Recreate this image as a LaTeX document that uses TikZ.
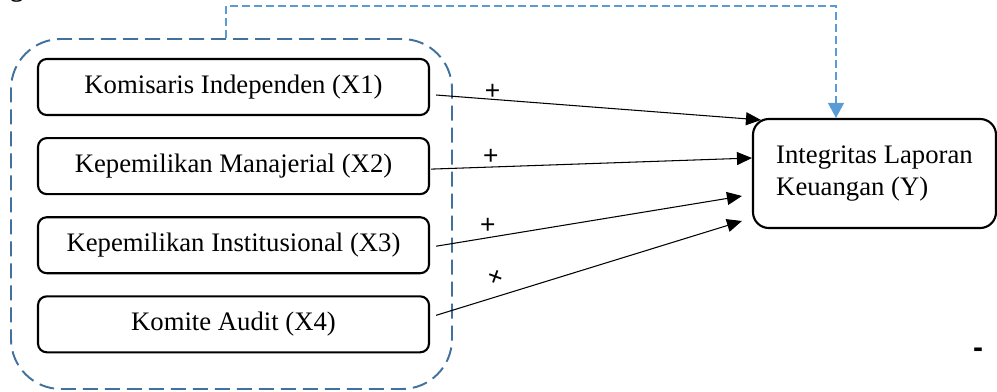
\documentclass[tikz,border=0pt]{standalone}
\usepackage{fontspec}
\setmainfont{Liberation Serif}
\newfontfamily\plusfont{Liberation Sans}
\usetikzlibrary{arrows.meta,positioning}
\definecolor{grupblue}{HTML}{41719C}
\definecolor{umpanblue}{HTML}{5B9BD5}
\tikzset{
  basic/.style  = {draw, line width=1.2pt, font=\fontsize{15.2}{18.7}\selectfont},
  faktor/.style = {basic, rounded corners=5pt, align=center,
                   minimum width=7.82cm, minimum height=1.12cm},
  hasil/.style  = {basic, rounded corners=9pt, align=left,
                   minimum width=4.86cm, minimum height=2.18cm},
  grup/.style   = {draw=grupblue, line width=1.1pt, rounded corners=1cm,
                   dash pattern=on 0.3cm off 0.14cm},
  umpan/.style  = {draw=umpanblue, line width=0.7pt,
                   dash pattern=on 0.16cm off 0.08cm,
                   -{Triangle[length=0.3cm,width=0.32cm,fill=umpanblue]}},
  panah/.style  = {draw, line width=0.6pt,
                   -{Triangle[length=0.3cm,width=0.26cm]}},
  plus/.style   = {font=\plusfont\fontsize{15}{15}\selectfont, inner sep=0pt}
}

\begin{document}
\begin{tikzpicture}
  \useasboundingbox (0,0) rectangle (19.94,-7.82);

  % cropped caption letter at the top edge
  \node[anchor=base, font=\bfseries\fontsize{15}{18}\selectfont] (kap) at (0.34,0.07) {g};

  % independent variables, stacked
  \node[faktor] (k1) at (4.67,-1.74) {Komisaris Independen (X1)};
  \node[faktor, below=0.42cm of k1] (k2) {Kepemilikan Manajerial (X2)};
  \node[faktor, below=0.42cm of k2] (k3) {Kepemilikan Institusional (X3)};
  \node[faktor, below=0.42cm of k3] (k4) {Komite Audit (X4)};

  % dashed group round them
  \node[grup, minimum width=8.82cm, minimum height=7cm] (grp) at (4.63,-4.28) {};

  % dependent variable
  \node[hasil] (y) at (17.49,-3.47) {Integritas Laporan\\Keuangan (Y)};

  % simultaneous effect of the group
  \coordinate (atas) at (16.72,-0.12);
  \draw[umpan] ([xshift=-0.11cm]grp.north) |- (atas) -- (atas |- y.north);

  % partial effects
  \draw[panah] ([shift={(0.12,-0.16)}]k1.east)
    -- node[plus, pos=0.174, yshift=0.15cm] (p1) {+} ([shift={(0.18,-0.04)}]y.north west);
  \draw[panah] ([shift={(0.02,-0.06)}]k2.east)
    -- node[plus, pos=0.186, yshift=0.2cm] (p2) {+} ([yshift=0.31cm]y.west);
  \draw[panah] ([shift={(0.12,-0.02)}]k3.east)
    -- node[plus, pos=0.169, yshift=0.24cm] (p3) {+} ([shift={(-0.2,-0.45)}]y.west);
  \draw[panah] ([shift={(0.12,0.18)}]k4.east)
    -- node[plus, pos=0.195, yshift=0.38cm, rotate=-20] (p4) {+} ([shift={(-0.2,-0.95)}]y.west);

  \node[font=\plusfont\bfseries\fontsize{17}{18}\selectfont, inner sep=0pt] (tanda) at (19.56,-7.06) {-};
\end{tikzpicture}
\end{document}
